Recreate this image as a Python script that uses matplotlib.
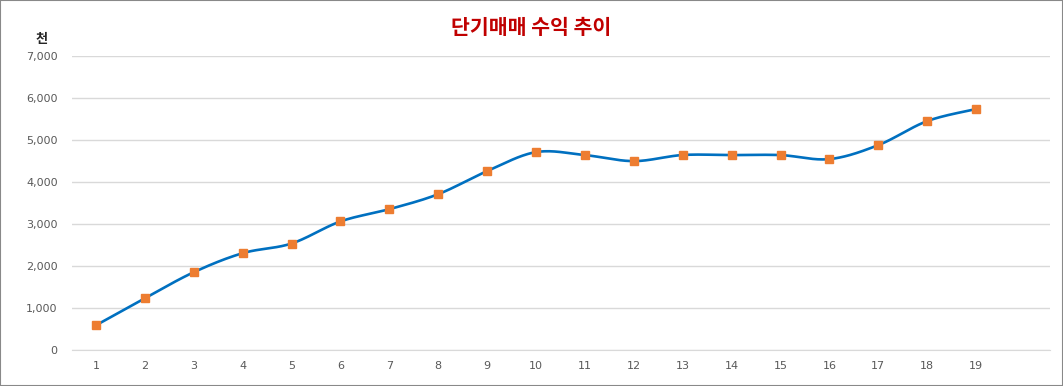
import matplotlib
matplotlib.use("Agg")
import matplotlib.pyplot as plt
import numpy as np
from matplotlib.patches import Rectangle

categories = list(range(1, 20))
values = [595, 1238, 1857, 2310, 2540, 3065, 3357, 3714, 4262, 4714,
          4643, 4500, 4645, 4643, 4643, 4548, 4881, 5452, 5738]
yticks = [0, 1000, 2000, 3000, 4000, 5000, 6000, 7000]
title = "단기매매 수익 추이"
unit_label = "천"

plt.rcParams['font.family'] = ['Noto Sans CJK KR', 'DejaVu Sans']

fig = plt.figure(figsize=(10.63, 3.86), dpi=100)
ax = fig.add_axes([71.5/1063, 35.7/386, (1049.5-71.5)/1063, (350.3-56)/386])

# Catmull-Rom smoothing (like Excel's smoothed line)
x = np.array(categories, dtype=float)
y = np.array(values, dtype=float)
xs, ys = [], []
n = len(x)
for i in range(n - 1):
    p0 = np.array([x[max(i-1, 0)], y[max(i-1, 0)]])
    p1 = np.array([x[i], y[i]])
    p2 = np.array([x[i+1], y[i+1]])
    p3 = np.array([x[min(i+2, n-1)], y[min(i+2, n-1)]])
    c1 = p1 + (p2 - p0) / 6.0
    c2 = p2 - (p3 - p1) / 6.0
    t = np.linspace(0, 1, 30)[:, None]
    pts = ((1-t)**3)*p1 + 3*((1-t)**2)*t*c1 + 3*(1-t)*(t**2)*c2 + (t**3)*p2
    xs.extend(pts[:, 0]); ys.extend(pts[:, 1])

ax.plot(xs, ys, color='#0070C0', lw=1.9, solid_capstyle='round', zorder=3)
ax.plot(x, y, ls='none', marker='s', ms=6, color='#ED7D31', zorder=4)

ax.set_xlim(0.5, 20.5)
ax.set_ylim(0, 7000)
ax.set_yticks(yticks)
ax.set_yticklabels([f"{v:,}" for v in yticks])
ax.set_xticks(categories)
ax.set_xticklabels([str(c) for c in categories])
ax.grid(axis='y', color='#D9D9D9', lw=1)
ax.set_axisbelow(True)
for s in ['top', 'right', 'left']:
    ax.spines[s].set_visible(False)
ax.spines['bottom'].set_color('#D9D9D9')
ax.tick_params(axis='both', length=0, colors='#595959', labelsize=8)
ax.tick_params(axis='y', pad=10)
ax.tick_params(axis='x', pad=8)
for lbl in ax.get_xticklabels() + ax.get_yticklabels():
    lbl.set_family(['DejaVu Sans'])

fig.text(531/1063, 1 - 28/386, title, ha='center', va='center', color='#C00000',
         fontsize=14.8, fontweight='bold')
fig.text(42/1063, 1 - 39/386, unit_label, ha='center', va='center', color='#262626',
         fontsize=9.5, fontweight='bold')

fig.patches.append(Rectangle((0, 0), 1, 1, transform=fig.transFigure, fill=False,
                             edgecolor='#898989', lw=1.5))
fig.savefig('out.png', dpi=100)
